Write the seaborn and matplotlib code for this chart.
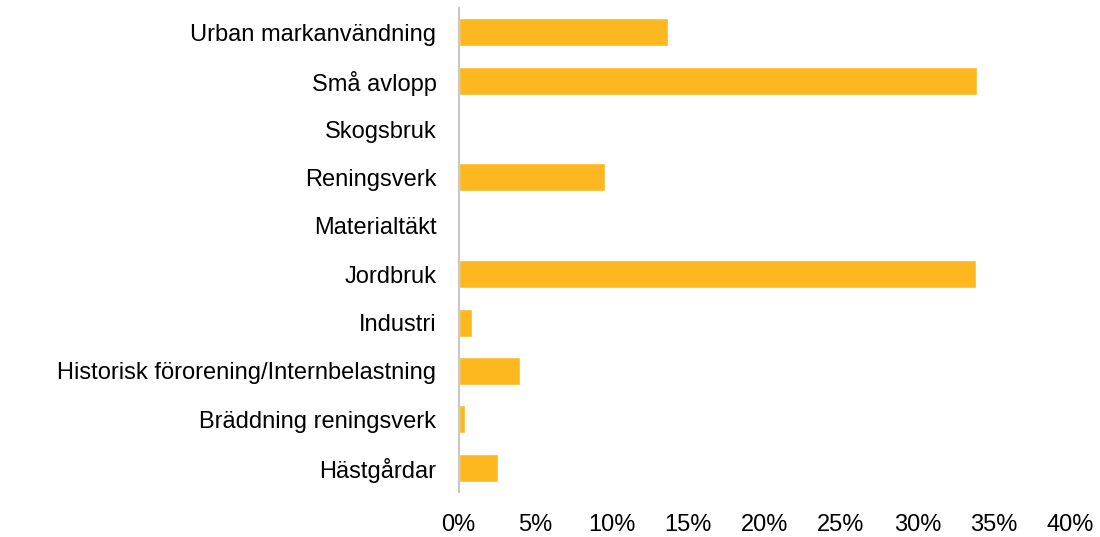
import numpy as np
import pandas as pd
import matplotlib
matplotlib.use("Agg")
import matplotlib.pyplot as plt
import seaborn as sns
from matplotlib.ticker import PercentFormatter

# -------------------------------------------------------
# Data (share of load per source, %)
# -------------------------------------------------------
sources = [
    "Urban markanvändning",
    "Små avlopp",
    "Skogsbruk",
    "Reningsverk",
    "Materialtäkt",
    "Jordbruk",
    "Industri",
    "Historisk förorening/Internbelastning",
    "Bräddning reningsverk",
    "Hästgårdar",
]
shares = [13.7, 33.9, 0.0, 9.6, 0.0, 33.8, 0.9, 4.0, 0.4, 2.6]

df = pd.DataFrame({"source": sources, "share": shares})

# -------------------------------------------------------
# Plot
# -------------------------------------------------------
sns.set_theme(style="white")
plt.rcParams["font.family"] = ["Liberation Sans", "DejaVu Sans"]

fig = plt.figure(figsize=(11, 5.37), dpi=100)
ax = fig.add_axes([0.417, 0.084, 0.556, 0.901])

sns.barplot(data=df, x="share", y="source", color="#FDB71F",
            saturation=1, width=0.58, ax=ax)

ax.set_xlim(0, 40)
ax.set_xticks(np.arange(0, 41, 5))
ax.xaxis.set_major_formatter(PercentFormatter(decimals=0))
ax.set_xlabel("")
ax.set_ylabel("")
ax.tick_params(axis="both", length=0, labelsize=17, colors="#000000")
ax.tick_params(axis="x", pad=16)
ax.tick_params(axis="y", pad=16)

for side in ["top", "right", "bottom"]:
    ax.spines[side].set_visible(False)
ax.spines["left"].set_color("#C8C8C8")
ax.spines["left"].set_linewidth(1.5)

fig.savefig("out.png", dpi=100)
